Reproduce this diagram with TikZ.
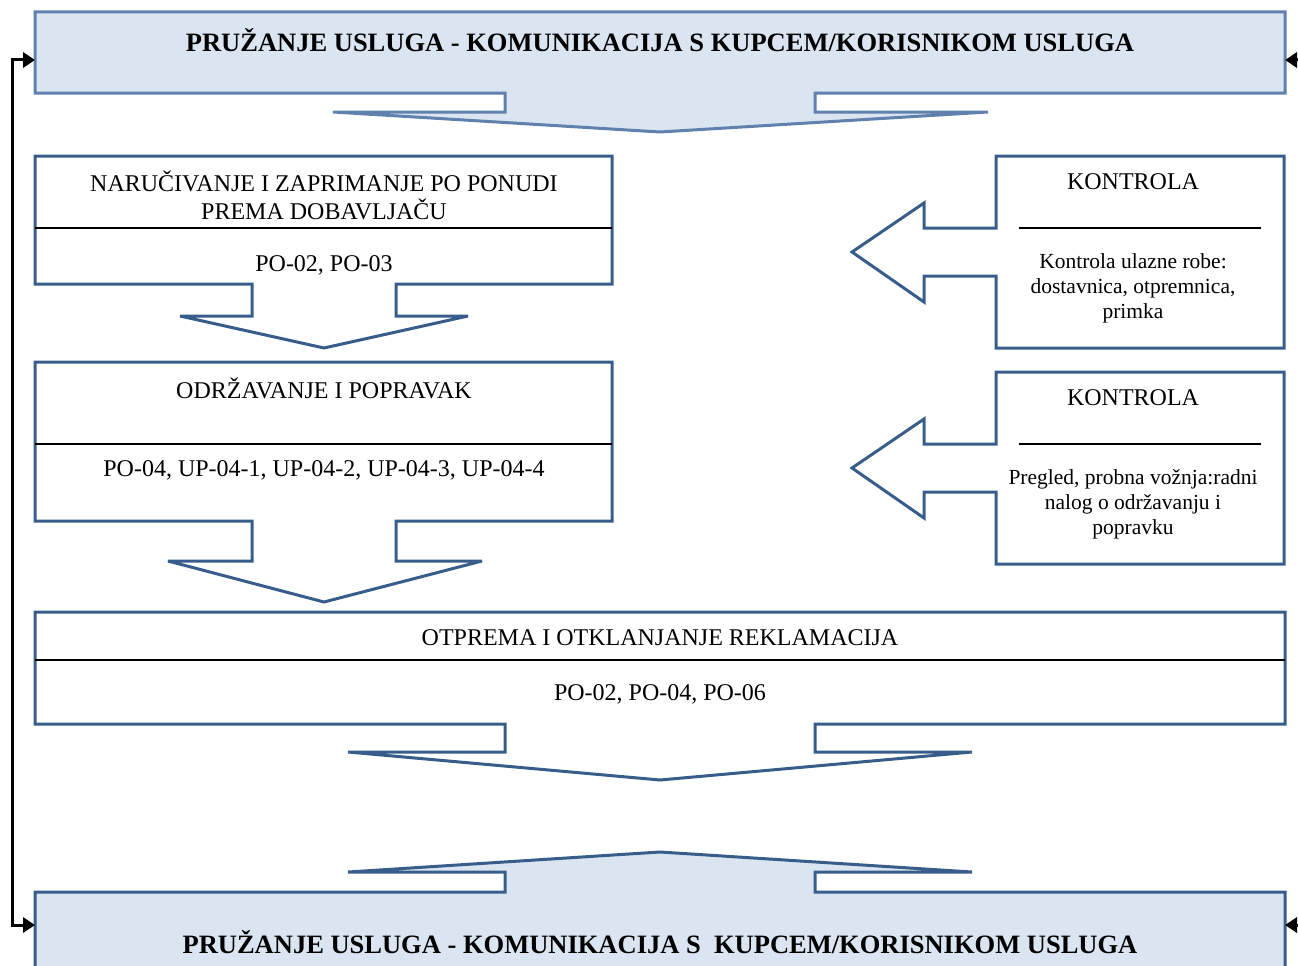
\documentclass[tikz,border=0pt]{standalone}
\usepackage{fontspec}
\setmainfont{Liberation Serif}
\usetikzlibrary{arrows.meta,positioning}
\definecolor{boxblue}{RGB}{56,93,138}
\definecolor{bannerblue}{RGB}{96,128,174}
\definecolor{fillblue}{RGB}{219,229,241}

\begin{document}
\begin{tikzpicture}[x=1pt,y=-1pt,
    every node/.style={font=\fontsize{24}{28}\selectfont,inner sep=0pt},
    outline/.style={draw=boxblue,line width=3pt,line join=miter,miter limit=3},
    banner/.style={outline,draw=bannerblue,fill=fillblue},
    sepline/.style={draw=black,line width=1.2pt},
    title/.style={font=\fontsize{26.5}{28}\selectfont\bfseries},
    desc/.style={align=center,font=\fontsize{21.5}{25}\selectfont},
    fb/.style={draw=black,line width=3pt,line join=miter,arrows={-Triangle[length=12pt,width=15pt]}}]
  \clip (0,0) rectangle (1298,966);

  % top banner with down arrow
  \draw[banner] (35,12) -- (1285,12) -- (1285,93) -- (815,93) -- (815,112) -- (988,112)
    -- (660,132) -- (333,112) -- (505,112) -- (505,93) -- (35,93) -- cycle;
  \node[title] (usluga1) at (660,40) {PRUŽANJE USLUGA - KOMUNIKACIJA S KUPCEM/KORISNIKOM USLUGA};

  % narucivanje
  \draw[outline] (35,156) -- (612,156) -- (612,284) -- (396,284) -- (396,316) -- (468,316)
    -- (324,348) -- (180,316) -- (252,316) -- (252,284) -- (35,284) -- cycle;
  \draw[sepline] (35,228) -- (612,228);
  \node[align=center] (nar) at (324,195) {NARUČIVANJE I ZAPRIMANJE PO PONUDI\\PREMA DOBAVLJAČU};
  \node (nardoc) at (324,265) {PO-02, PO-03};

  % odrzavanje
  \draw[outline] (35,362) -- (612,362) -- (612,521) -- (396,521) -- (396,561) -- (482,561)
    -- (324,602) -- (168,561) -- (252,561) -- (252,521) -- (35,521) -- cycle;
  \draw[sepline] (35,444) -- (612,444);
  \node (odr) at (324,388) {ODRŽAVANJE I POPRAVAK};
  \node (odrdoc) at (324,470) {PO-04, UP-04-1, UP-04-2, UP-04-3, UP-04-4};

  % otprema
  \draw[outline] (35,612) -- (1285,612) -- (1285,724) -- (815,724) -- (815,752) -- (972,752)
    -- (660,780) -- (348,752) -- (505,752) -- (505,724) -- (35,724) -- cycle;
  \draw[sepline] (35,660) -- (1285,660);
  \node (otp) at (660,638) {OTPREMA I OTKLANJANJE REKLAMACIJA};
  \node (otpdoc) at (660,694) {PO-02, PO-04, PO-06};

  % bottom banner with up arrow
  \draw[outline,fill=fillblue] (35,892) -- (505,892) -- (505,872) -- (348,872) -- (660,852)
    -- (972,872) -- (815,872) -- (815,892) -- (1285,892) -- (1285,1000) -- (35,1000) -- cycle;
  \node[title] (usluga2) at (660,942) {PRUŽANJE USLUGA - KOMUNIKACIJA S\ \ KUPCEM/KORISNIKOM USLUGA};

  % kontrole with left arrows
  \foreach \dy/\name/\txt in {0/kon1/{Kontrola ulazne robe:\\dostavnica, otpremnica,\\primka},
      216/kon2/{Pregled, probna vožnja:radni\\nalog o održavanju i\\popravku}} {
    \draw[outline] (996,156+\dy) -- (1284,156+\dy) -- (1284,348+\dy) -- (996,348+\dy)
      -- (996,276+\dy) -- (924,276+\dy) -- (924,302+\dy) -- (852,252+\dy) -- (924,203+\dy)
      -- (924,228+\dy) -- (996,228+\dy) -- cycle;
    \draw[sepline] (1019,228+\dy) -- (1261,228+\dy);
    \node (\name) at (1133,182+\dy) {KONTROLA};
    \node[desc] (\name txt) at (1133,288+\dy) {\txt};
  }

  % feedback loop
  \coordinate (topW) at (35,60);
  \coordinate (botW) at (35,925);
  \coordinate (topE) at (1285,60);
  \coordinate (botE) at (1285,925);
  \draw[fb,{Triangle[length=12pt,width=15pt]}-{Triangle[length=12pt,width=15pt]}] (botW) -- ++(-23,0) |- (topW);
  \draw[fb] (1330,60) -- (topE);
  \draw[fb] (1330,925) -- (botE);
\end{tikzpicture}
\end{document}
